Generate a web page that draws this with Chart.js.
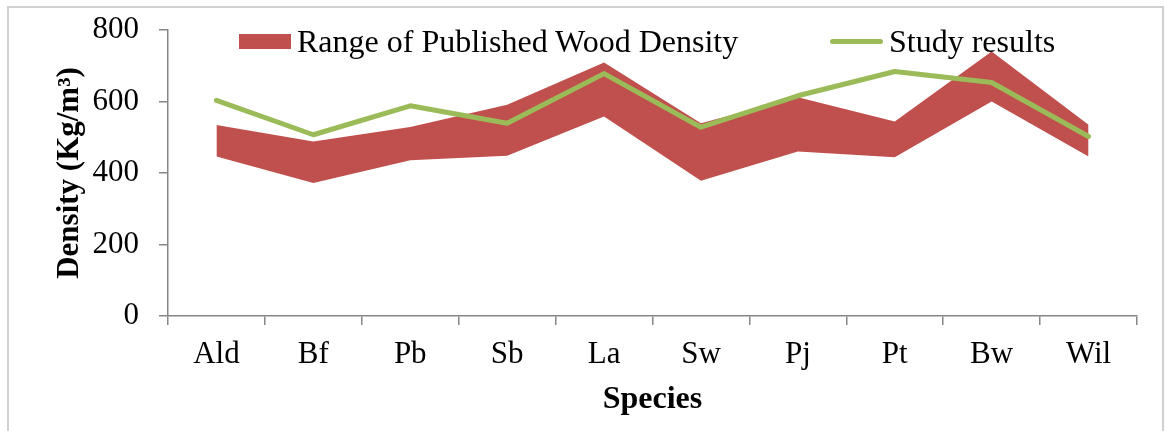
<!DOCTYPE html>
<html>
<head>
<meta charset="utf-8">
<script src="https://cdn.jsdelivr.net/npm/chart.js@4.4.1/dist/chart.umd.min.js"></script>
<style>
  body { margin: 0; background: #fff; }
  #wrap { position: relative; width: 1165px; height: 431px; overflow: hidden; }
  #frame { position: absolute; left: 7px; top: 6px; width: 1157px; height: 440px; border: 2px solid #d0d0d0; box-sizing: border-box; }
  #legend { position: absolute; top: 22px; left: 0; font-family: "Times New Roman", "Liberation Serif", serif; font-size: 32px; line-height: 38px; color: #000; }
  .item { position: absolute; white-space: nowrap; display: flex; align-items: center; }
  .box { display: inline-block; width: 52px; height: 15px; background: #C0504D; margin-right: 6px; }
  .ln { display: inline-block; width: 53px; height: 5px; border-radius: 3px; background: #9BBB59; margin-right: 6px; }
</style>
</head>
<body>
<div id="wrap">
  <div id="frame"></div>
  <canvas id="densityChart" width="1165" height="431"></canvas>
  <div id="legend">
    <div class="item" style="left:239px"><span class="box"></span>Range of Published Wood Density</div>
    <div class="item" style="left:830px"><span class="ln"></span>Study results</div>
  </div>
</div>
<script>
const species = ["Ald", "Bf", "Pb", "Sb", "La", "Sw", "Pj", "Pt", "Bw", "Wil"];
const rangeLow = [446, 372, 436, 448, 558, 378, 460, 444, 600, 446];
const rangeHigh = [534, 488, 529, 591, 709, 539, 612, 544, 740, 535];
const studyResults = [603, 507, 588, 539, 678, 528, 616, 684, 653, 502];
const yTicks = [0, 200, 400, 600, 800];

const serif = "'Times New Roman', 'Liberation Serif', serif";
const axisGray = "#868686";

function drawChart() {
  const ctx = document.getElementById("densityChart").getContext("2d");

  new Chart(ctx, {
    type: "line",
    data: {
      labels: species,
      datasets: [
        {
          label: "low",
          data: rangeLow,
          borderWidth: 0,
          pointRadius: 0,
          pointHoverRadius: 0,
          fill: false,
          order: 2,
        },
        {
          label: "Range of Published Wood Density",
          data: rangeHigh,
          borderWidth: 0,
          pointRadius: 0,
          pointHoverRadius: 0,
          backgroundColor: "#C0504D",
          fill: "-1",
          order: 1,
        },
        {
          label: "Study results",
          data: studyResults,
          borderColor: "#9BBB59",
          borderWidth: 5,
          borderCapStyle: "round",
          borderJoinStyle: "round",
          pointRadius: 0,
          pointHoverRadius: 0,
          fill: false,
          order: 0,
        },
      ],
    },
    options: {
      responsive: false,
      animation: false,
      layout: { autoPadding: false, padding: { top: 30, right: 28, left: 0, bottom: 0 } },
      plugins: {
        legend: { display: false },
        tooltip: { enabled: false },
      },
      scales: {
        x: {
          offset: true,
          grid: {
            offset: true,
            drawOnChartArea: false,
            color: axisGray,
            tickLength: 9,
            lineWidth: 1.5,
          },
          border: { color: axisGray, width: 1.5 },
          ticks: { color: "#000", font: { family: serif, size: 31 }, padding: 11 },
          title: {
            display: true,
            text: "Species",
            color: "#000",
            font: { family: serif, size: 32, weight: "bold" },
            padding: { top: 0, bottom: 12 },
          },
          afterFit(scale) { scale.height = 115; },
        },
        y: {
          min: 0,
          max: 800,
          afterBuildTicks(scale) { scale.ticks = yTicks.map(v => ({ value: v })); },
          grid: {
            drawOnChartArea: false,
            color: axisGray,
            tickLength: 9,
            lineWidth: 1.5,
          },
          border: { color: axisGray, width: 1.5 },
          ticks: { color: "#000", font: { family: serif, size: 31 }, padding: 20 },
          title: {
            display: true,
            text: "Density (Kg/m³)",
            color: "#000",
            font: { family: serif, size: 31, weight: "bold" },
            padding: { top: 51, bottom: 0 },
          },
          afterFit(scale) {
            scale.width = 168;
            // labels may hang over the chart area edge, like the original
            scale.paddingTop = 0;
            scale.paddingBottom = 0;
          },
        },
      },
    },
  });
}

document.addEventListener("DOMContentLoaded", drawChart);
</script>
</body>
</html>
